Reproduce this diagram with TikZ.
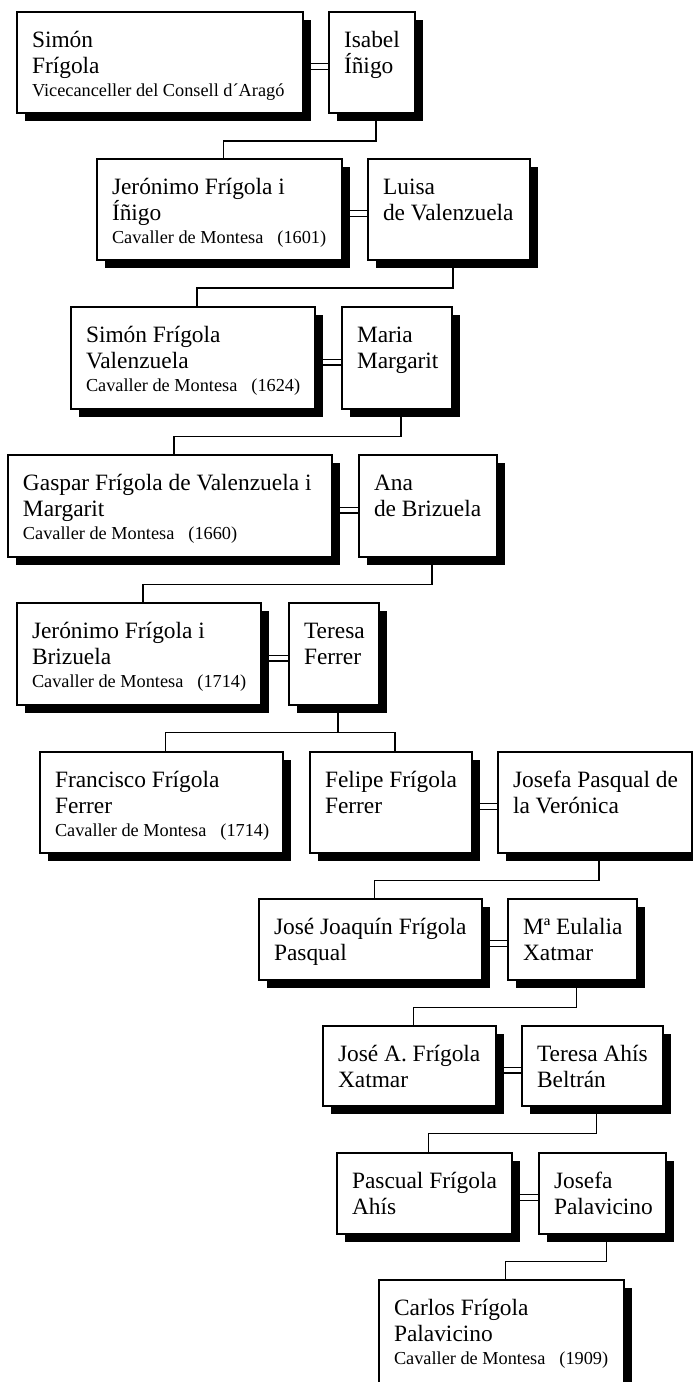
\documentclass[tikz,border=0pt]{standalone}
\usepackage{fontspec}
\setmainfont{Liberation Serif}
\usetikzlibrary{shadows,backgrounds}
\newcommand{\pbx}[3]{\parbox[t][#2][t]{#1}{\raggedright\leftskip=15pt\parindent=0pt\vspace*{14pt}\fontsize{23.4pt}{26.3pt}\selectfont\rule{0pt}{21pt}#3\par}}
\newcommand{\subl}[1]{\par\fontsize{18.3pt}{23pt}\selectfont #1}
\newcommand{\cav}[1]{\subl{Cavaller de Montesa\hspace{14pt}(#1)}}
\tikzset{
  person/.style={draw, line width=1.4pt, fill=white, inner sep=0pt, outer sep=0pt, anchor=north west,
    drop shadow={shadow xshift=8pt, shadow yshift=-8pt, fill=black, opacity=1}},
  conn/.style={draw, line width=1.4pt},
  marr/.style={draw, double, line width=1.3pt, double distance=4.4pt}
}
\begin{document}
\begin{tikzpicture}[x=1pt, y=-1pt]
\useasboundingbox (0,0) rectangle (693,1382);
% row 1
\node[person] (A) at (17,12) {\pbx{286pt}{101pt}{Simón\\Frígola\subl{Vicecanceller del Consell d´Aragó}}};
\node[person] (B) at (329,12) {\pbx{86pt}{101pt}{Isabel\\Íñigo}};
% row 2
\node[person] (C) at (97,159) {\pbx{245pt}{101pt}{Jerónimo Frígola i\\Íñigo\cav{1601}}};
\node[person] (D) at (368,159) {\pbx{162pt}{101pt}{Luisa\\de Valenzuela}};
% row 3
\node[person] (E) at (71,307) {\pbx{244pt}{102pt}{Simón Frígola\\Valenzuela\cav{1624}}};
\node[person] (F) at (342,307) {\pbx{110pt}{102pt}{Maria\\Margarit}};
% row 4
\node[person] (G) at (8,455) {\pbx{324pt}{102pt}{Gaspar Frígola de Valenzuela i\\Margarit\cav{1660}}};
\node[person] (H) at (359,455) {\pbx{138pt}{102pt}{Ana\\de Brizuela}};
% row 5
\node[person] (I) at (17,603) {\pbx{244pt}{102pt}{Jerónimo Frígola i\\Brizuela\cav{1714}}};
\node[person] (J) at (289,603) {\pbx{90pt}{102pt}{Teresa\\Ferrer}};
% row 6
\node[person] (K) at (40,752) {\pbx{243pt}{101pt}{Francisco Frígola\\Ferrer\cav{1714}}};
\node[person] (L) at (310,752) {\pbx{162pt}{101pt}{Felipe Frígola\\Ferrer}};
\node[person] (M) at (498,752) {\pbx{194pt}{101pt}{Josefa Pasqual de\\la Verónica}};
% row 7
\node[person] (N) at (259,899) {\pbx{223pt}{81pt}{José Joaquín Frígola\\Pasqual}};
\node[person] (O) at (508,899) {\pbx{129pt}{81pt}{Mª Eulalia\\Xatmar}};
% row 8
\node[person] (P) at (323,1026) {\pbx{173pt}{80pt}{José A. Frígola\\Xatmar}};
\node[person] (Q) at (522,1026) {\pbx{141pt}{80pt}{Teresa Ahís\\Beltrán}};
% row 9
\node[person] (R) at (337,1153) {\pbx{175pt}{81pt}{Pascual Frígola\\Ahís}};
\node[person] (S) at (539,1153) {\pbx{127pt}{81pt}{Josefa\\Palavicino}};
% row 10
\node[person] (T) at (379,1280) {\pbx{245pt}{104pt}{Carlos Frígola\\Palavicino\cav{1909}}};

\begin{pgfonlayer}{background}
% marriages
\draw[marr] ([yshift=-4pt]A.east) -- ([yshift=-4pt]B.west);
\draw[marr] ([yshift=-4pt]C.east) -- ([yshift=-4pt]D.west);
\draw[marr] ([yshift=-4pt]E.east) -- ([yshift=-4pt]F.west);
\draw[marr] ([yshift=-4pt]G.east) -- ([yshift=-4pt]H.west);
\draw[marr] ([yshift=-4pt]I.east) -- ([yshift=-4pt]J.west);
\draw[marr] ([yshift=-4pt]L.east) -- ([yshift=-4pt]M.west);
\draw[marr] ([yshift=-4pt]N.east) -- ([yshift=-4pt]O.west);
\draw[marr] ([yshift=-4pt]P.east) -- ([yshift=-4pt]Q.west);
\draw[marr] ([yshift=-4pt]R.east) -- ([yshift=-4pt]S.west);
% descent
\draw[conn] ([xshift=4pt]B.south) -- ++(0,28) -| ([xshift=4pt]C.north);
\draw[conn] ([xshift=4pt]D.south) -- ++(0,28) -| ([xshift=4pt]E.north);
\draw[conn] ([xshift=4pt]F.south) -- ++(0,27.5) -| ([xshift=4pt]G.north);
\draw[conn] ([xshift=4pt]H.south) -- ++(0,27.5) -| ([xshift=4pt]I.north);
\draw[conn] ([xshift=4pt]J.south) -- ++(0,27.5) coordinate (jm);
\draw[conn] ([xshift=4pt]K.north) |- (jm) -| ([xshift=4pt]L.north);
\draw[conn] ([xshift=4pt]M.south) -- ++(0,27.5) -| ([xshift=4pt]N.north);
\draw[conn] ([xshift=4pt]O.south) -- ++(0,27.5) -| ([xshift=4pt]P.north);
\draw[conn] ([xshift=4pt]Q.south) -- ++(0,27.5) -| ([xshift=4pt]R.north);
\draw[conn] ([xshift=4pt]S.south) -- ++(0,27.5) -| ([xshift=4pt]T.north);
\end{pgfonlayer}
\end{tikzpicture}
\end{document}
